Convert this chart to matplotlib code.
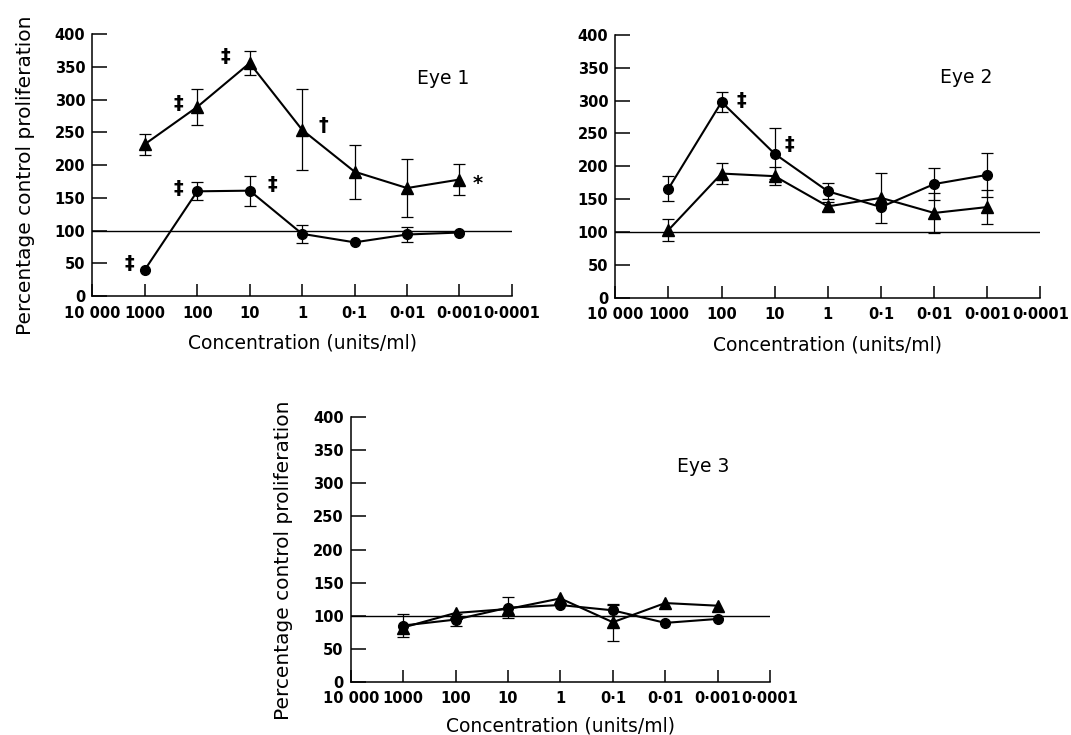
import numpy as np
import matplotlib
matplotlib.use('Agg')
import matplotlib.pyplot as plt

plt.rcParams['font.family'] = ['DejaVu Sans']

# concentrations (units/ml) for each data point
conc = [1000, 100, 10, 1, 0.1, 0.01, 0.001]
tick_pos = [1e4, 1e3, 1e2, 1e1, 1, 1e-1, 1e-2, 1e-3, 1e-4]
tick_labels = ['10 000', '1000', '100', '10', '1', '0·1', '0·01', '0·001', '0·0001']

# Eye 1
eye1_tri = [232, 289, 356, 254, 190, 165, 178]
eye1_tri_err = [16, 28, 18, 62, 41, 44, 24]
eye1_circ = [40, 160, 161, 95, 82, 94, 97]
eye1_circ_err = [0, 14, 23, 14, 0, 11, 0]

# Eye 2
eye2_circ = [166, 298, 219, 162, 138, 173, 187]
eye2_circ_err = [19, 15, 39, 12, 0, 24, 34]
eye2_tri = [103, 189, 185, 139, 152, 129, 138]
eye2_tri_err = [17, 16, 14, 7, 38, 30, 26]

# Eye 3
eye3_tri = [82, 104, 110, 126, 90, 119, 115]
eye3_tri_err = [0, 0, 0, 0, 28, 0, 0]
eye3_circ = [85, 94, 112, 116, 108, 89, 95]
eye3_circ_err = [17, 9, 16, 0, 8, 0, 0]

# significance marks: (symbol, x, y)
eye1_marks = [('‡', 10**3.30, 49), ('‡', 10**2.35, 295), ('‡', 10**1.46, 366),
              ('†', 10**-0.40, 261), ('*', 10**-3.35, 172),
              ('‡', 10**2.35, 165), ('‡', 10**0.575, 170)]
eye2_marks = [('‡', 10**1.62, 301), ('‡', 10**0.72, 234)]


def setup(ax):
    ax.set_xscale('log')
    ax.set_xlim(1e4, 1e-4)
    ax.set_ylim(0, 400)
    ax.set_xticks(tick_pos)
    ax.set_xticklabels(tick_labels)
    ax.minorticks_off()
    ax.set_yticks(range(0, 401, 50))
    ax.spines[['top', 'right']].set_visible(False)
    ax.spines[['left', 'bottom']].set_linewidth(1.1)
    ax.tick_params(axis='x', direction='in', length=9, width=1.1, pad=7, labelsize=10.5)
    ax.tick_params(axis='y', direction='in', length=11, width=1.1, pad=5, labelsize=10.5)
    for lab in ax.get_xticklabels() + ax.get_yticklabels():
        lab.set_fontweight('bold')
    ax.axhline(100, color='black', lw=1.0, zorder=1)
    ax.set_xlabel('Concentration (units/ml)', fontsize=13.5)
    ax.xaxis.set_label_coords(0.5, -0.145)


def draw_series(ax, y, err, marker, ms):
    ax.plot(conc, y, color='black', lw=1.5, marker=marker, ms=ms, zorder=3)
    idx = [i for i, e in enumerate(err) if e > 0]
    ax.errorbar([conc[i] for i in idx], [y[i] for i in idx],
                yerr=[err[i] for i in idx], fmt='none', ecolor='black',
                elinewidth=0.9, capsize=4.5, capthick=0.9, zorder=2)


fig = plt.figure(figsize=(10.71, 7.35), dpi=100)

ax1 = fig.add_axes([0.0862, 0.5973, 0.478 - 0.0862, 0.9533 - 0.5973])
ax2 = fig.add_axes([0.5745, 0.595, 0.9715 - 0.5745, 0.9524 - 0.595])
ax3 = fig.add_axes([0.3275, 0.0725, 0.719 - 0.3275, 0.4322 - 0.0725])

for ax in (ax1, ax2, ax3):
    setup(ax)
ax3.xaxis.set_label_coords(0.5, -0.13)

draw_series(ax1, eye1_tri, eye1_tri_err, '^', 8.5)
draw_series(ax1, eye1_circ, eye1_circ_err, 'o', 7)
draw_series(ax2, eye2_circ, eye2_circ_err, 'o', 7)
draw_series(ax2, eye2_tri, eye2_tri_err, '^', 8.5)
draw_series(ax3, eye3_tri, eye3_tri_err, '^', 8.5)
draw_series(ax3, eye3_circ, eye3_circ_err, 'o', 7)

for sym, x, y in eye1_marks:
    ax1.text(x, y, sym, ha='center', va='center', fontsize=14, fontweight='bold')
for sym, x, y in eye2_marks:
    ax2.text(x, y, sym, ha='center', va='center', fontsize=14, fontweight='bold')

ax1.text(10**-2.69, 333, 'Eye 1', ha='center', va='center', fontsize=13.5)
ax2.text(10**-2.61, 335, 'Eye 2', ha='center', va='center', fontsize=13.5)
ax3.text(10**-2.73, 325, 'Eye 3', ha='center', va='center', fontsize=13.5)

for ax in (ax1, ax3):
    ax.set_ylabel('Percentage control proliferation', fontsize=14.5)
    ax.yaxis.set_label_coords(-0.137, 0.46)

fig.savefig('out.png', dpi=100)
